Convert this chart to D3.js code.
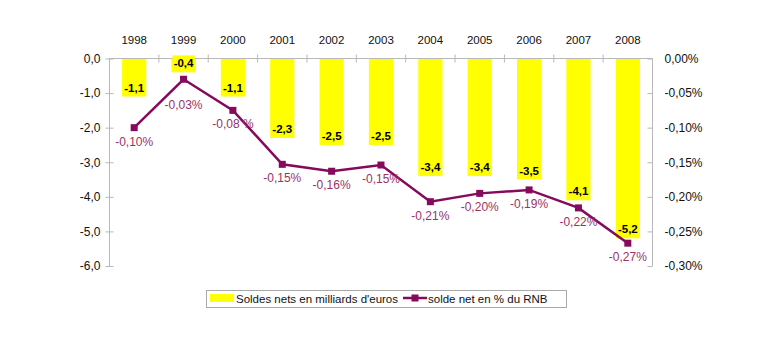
<!DOCTYPE html>
<html lang="fr">
<head>
  <meta charset="UTF-8">
  <title>Soldes nets</title>
  <script src="https://d3js.org/d3.v7.min.js"></script>
  <style>
    html, body { margin: 0; background: #fff; }
    body { font-family: "Liberation Sans", Arial, sans-serif; }
    .axis text { font-size: 12px; fill: #111; }
    .axis path, .axis line { stroke: #b8b8b8; }
    .bar-label { font-size: 11.5px; font-weight: bold; fill: #000; text-anchor: middle; }
    .pct-label { font-size: 12px; fill: #993366; text-anchor: middle; }
    .legend text { font-size: 11.5px; fill: #111; }
  </style>
</head>
<body>
  <div id="chart"></div>
  <script>
    const years = ["1998", "1999", "2000", "2001", "2002", "2003", "2004", "2005", "2006", "2007", "2008"];
    const soldes = [-1.1, -0.4, -1.1, -2.3, -2.5, -2.5, -3.4, -3.4, -3.5, -4.1, -5.2];
    const soldeLabels = ["-1,1", "-0,4", "-1,1", "-2,3", "-2,5", "-2,5", "-3,4", "-3,4", "-3,5", "-4,1", "-5,2"];
    const pctRnb = [-0.10, -0.03, -0.075, -0.153, -0.163, -0.154, -0.207, -0.195, -0.19, -0.216, -0.267];
    const pctLabels = ["-0,10%", "-0,03%", "-0,08 %", "-0,15%", "-0,16%", "-0,15%", "-0,21%", "-0,20%", "-0,19%", "-0,22%", "-0,27%"];
    const leftTicks = [0, -1, -2, -3, -4, -5, -6];
    const rightTicks = [0, -0.05, -0.10, -0.15, -0.20, -0.25, -0.30];

    const W = 769, H = 352;
    const plot = { left: 109.5, right: 652.5, top: 58.5, bottom: 266 };

    const svg = d3.select("#chart").append("svg")
      .attr("width", W).attr("height", H);

    const x = d3.scaleBand().domain(years).range([plot.left, plot.right]);
    const yL = d3.scaleLinear().domain([0, -6]).range([plot.top, plot.bottom]);
    const yR = d3.scaleLinear().domain([0, -0.30]).range([plot.top, plot.bottom]);

    const fmt1 = d => d3.format(".1f")(d).replace(".", ",").replace("−", "-");
    const fmtPct = d => d3.format(".2f")(d).replace(".", ",").replace("−", "-") + "%";

    // bars
    const barW = x.bandwidth() * 0.49;
    svg.selectAll("rect.bar")
      .data(soldes)
      .enter().append("rect")
      .attr("class", "bar")
      .attr("x", (d, i) => x(years[i]) + (x.bandwidth() - barW) / 2)
      .attr("y", yL(0))
      .attr("width", barW)
      .attr("height", d => yL(d) - yL(0))
      .attr("fill", "#ffff00");

    // left axis
    const gL = svg.append("g").attr("class", "axis")
      .attr("transform", `translate(${plot.left},0)`)
      .call(d3.axisLeft(yL).tickValues(leftTicks).tickFormat(fmt1).tickSize(4).tickPadding(5));
    gL.select(".domain").attr("d", `M0,${plot.top}V${plot.bottom}`);
    gL.selectAll(".tick line").attr("x1", -4).attr("x2", 4);

    // right axis
    const gR = svg.append("g").attr("class", "axis")
      .attr("transform", `translate(${plot.right},0)`)
      .call(d3.axisRight(yR).tickValues(rightTicks).tickFormat(fmtPct).tickSize(4).tickPadding(8));
    gR.select(".domain").attr("d", `M0,${plot.top}V${plot.bottom}`);
    gR.selectAll(".tick line").attr("x1", -5).attr("x2", 0);

    // top category axis at zero
    const gT = svg.append("g").attr("class", "axis");
    gT.append("line")
      .attr("x1", plot.left).attr("x2", plot.right)
      .attr("y1", yL(0)).attr("y2", yL(0));
    gT.selectAll("line.sep")
      .data(years.slice(1))
      .enter().append("line")
      .attr("class", "sep")
      .attr("x1", d => x(d)).attr("x2", d => x(d))
      .attr("y1", yL(0) - 4).attr("y2", yL(0) + 4);
    gT.selectAll("text")
      .data(years)
      .enter().append("text")
      .attr("x", d => x(d) + x.bandwidth() / 2)
      .attr("y", 44)
      .attr("text-anchor", "middle")
      .style("font-size", "11.5px")
      .text(d => d);

    // bar labels with yellow box
    const bl = svg.selectAll("g.bl")
      .data(soldes)
      .enter().append("g")
      .attr("class", "bl")
      .attr("transform", (d, i) => `translate(${x(years[i]) + x.bandwidth() / 2},${yL(d) - 9})`);
    bl.append("rect")
      .attr("x", -11).attr("y", -8).attr("width", 22).attr("height", 16)
      .attr("fill", "#ffff00");
    bl.append("text")
      .attr("class", "bar-label")
      .attr("y", 4)
      .text((d, i) => soldeLabels[i]);

    // line
    const cx = i => x(years[i]) + x.bandwidth() / 2;
    svg.append("path")
      .datum(pctRnb)
      .attr("fill", "none")
      .attr("stroke", "#850a5d")
      .attr("stroke-width", 2.5)
      .attr("d", d3.line().x((d, i) => cx(i)).y(d => yR(d)));
    svg.selectAll("rect.mk")
      .data(pctRnb)
      .enter().append("rect")
      .attr("class", "mk")
      .attr("x", (d, i) => cx(i) - 3.5)
      .attr("y", d => yR(d) - 3.5)
      .attr("width", 7).attr("height", 7)
      .attr("fill", "#850a5d");
    // the 1999 label sits lower, below the bar label
    svg.selectAll("text.pct-label")
      .data(pctRnb)
      .enter().append("text")
      .attr("class", "pct-label")
      .attr("x", (d, i) => cx(i))
      .attr("y", (d, i) => yR(d) + (i === 1 ? 30 : 18))
      .text((d, i) => pctLabels[i]);

    // legend
    const lg = svg.append("g").attr("class", "legend");
    lg.append("rect")
      .attr("x", 206.5).attr("y", 290.5).attr("width", 360).attr("height", 17)
      .attr("fill", "#fff").attr("stroke", "#aaa");
    lg.append("rect")
      .attr("x", 210).attr("y", 294).attr("width", 24).attr("height", 8)
      .attr("fill", "#ffff00");
    lg.append("text").attr("x", 236).attr("y", 303).text("Soldes nets en milliards d'euros");
    lg.append("line")
      .attr("x1", 403).attr("x2", 427).attr("y1", 298).attr("y2", 298)
      .attr("stroke", "#850a5d").attr("stroke-width", 2.5);
    lg.append("rect")
      .attr("x", 411.5).attr("y", 294.5).attr("width", 7).attr("height", 7)
      .attr("fill", "#850a5d");
    lg.append("text").attr("x", 428).attr("y", 303).text("solde net en % du RNB");
  </script>
</body>
</html>
